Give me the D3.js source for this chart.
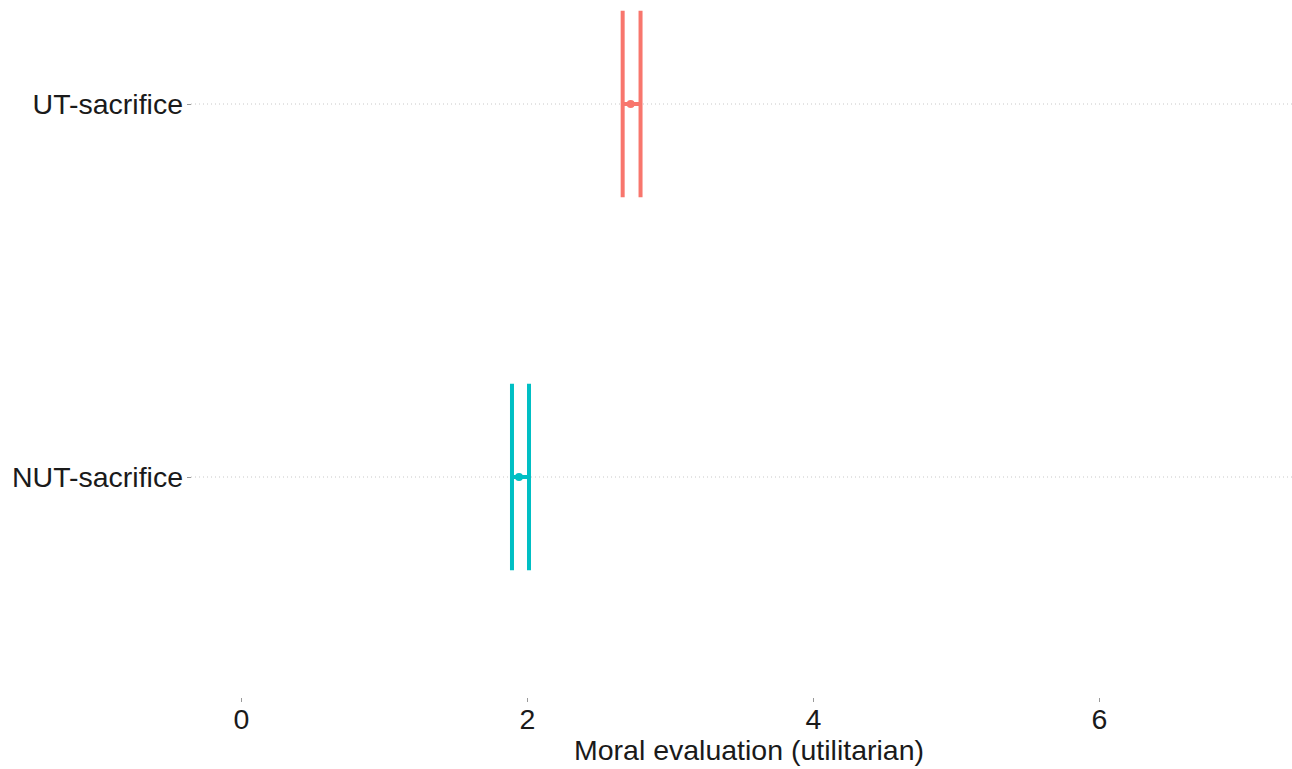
<!DOCTYPE html>
<html><head><meta charset="utf-8">
<script src="https://d3js.org/d3.v7.min.js"></script>
<style>body{margin:0;background:#fff}svg{display:block}text{font-family:"Liberation Sans",Arial,sans-serif}</style>
</head><body>
<svg id="c" width="1292" height="769"></svg>
<script>
const categories = ["UT-sacrifice", "NUT-sacrifice"];
const means = [2.725, 1.944];
const lower = [2.669, 1.895];
const upper = [2.794, 2.014];
const colors = ["#F8766D", "#00BFC4"];
const xTicks = [0, 2, 4, 6];
const xTitle = "Moral evaluation (utilitarian)";

const FS = 28.5;
const svg = d3.select("#c");
const x = d3.scaleLinear().domain([0, 6]).range([241, 1099]);
const y = d3.scalePoint().domain(categories).range([104, 477]);
const band = 373;
const capH = 0.5 * band;

// gridlines
svg.append("g").selectAll("line").data(categories).join("line")
  .attr("x1", 191).attr("x2", 1292)
  .attr("y1", d => y(d)).attr("y2", d => y(d))
  .attr("stroke", "#c8c8c8").attr("stroke-width", 1).attr("stroke-dasharray", "1,3");

// y axis
const yAxis = d3.axisLeft(y).tickSize(4).tickPadding(4);
const gy = svg.append("g").attr("transform", "translate(191,0)").call(yAxis);
gy.select(".domain").remove();
gy.selectAll(".tick line").attr("stroke", "#9a9a9a");
gy.selectAll(".tick text").attr("font-size", FS).attr("fill", "#1a1a1a")
  .attr("font-family", "'Liberation Sans',Arial,sans-serif").attr("dy", "0.35em");

// x axis
const xAxis = d3.axisBottom(x).tickValues(xTicks).tickSize(4).tickPadding(7).tickFormat(d3.format("d"));
const gx = svg.append("g").attr("transform", "translate(0,698)").call(xAxis);
gx.select(".domain").remove();
gx.selectAll(".tick line").attr("stroke", "#9a9a9a");
gx.selectAll(".tick text").attr("font-size", FS).attr("fill", "#1a1a1a")
  .attr("font-family", "'Liberation Sans',Arial,sans-serif");

svg.append("text").attr("x", 749).attr("y", 760).attr("text-anchor", "middle")
  .attr("font-size", FS).attr("fill", "#1a1a1a").text(xTitle);

// error bars
const data = categories.map((c, i) => ({c, m: means[i], lo: lower[i], hi: upper[i], col: colors[i]}));
const g = svg.append("g");
data.forEach(d => {
  const cy = y(d.c);
  g.append("line").attr("x1", x(d.lo)).attr("x2", x(d.hi)).attr("y1", cy).attr("y2", cy)
    .attr("stroke", d.col).attr("stroke-width", 4);
  [d.lo, d.hi].forEach(v => {
    g.append("line").attr("x1", x(v)).attr("x2", x(v))
      .attr("y1", cy - capH / 2).attr("y2", cy + capH / 2)
      .attr("stroke", d.col).attr("stroke-width", 4);
  });
  g.append("circle").attr("cx", x(d.m)).attr("cy", cy).attr("r", 4).attr("fill", d.col);
});
</script>
</body></html>
